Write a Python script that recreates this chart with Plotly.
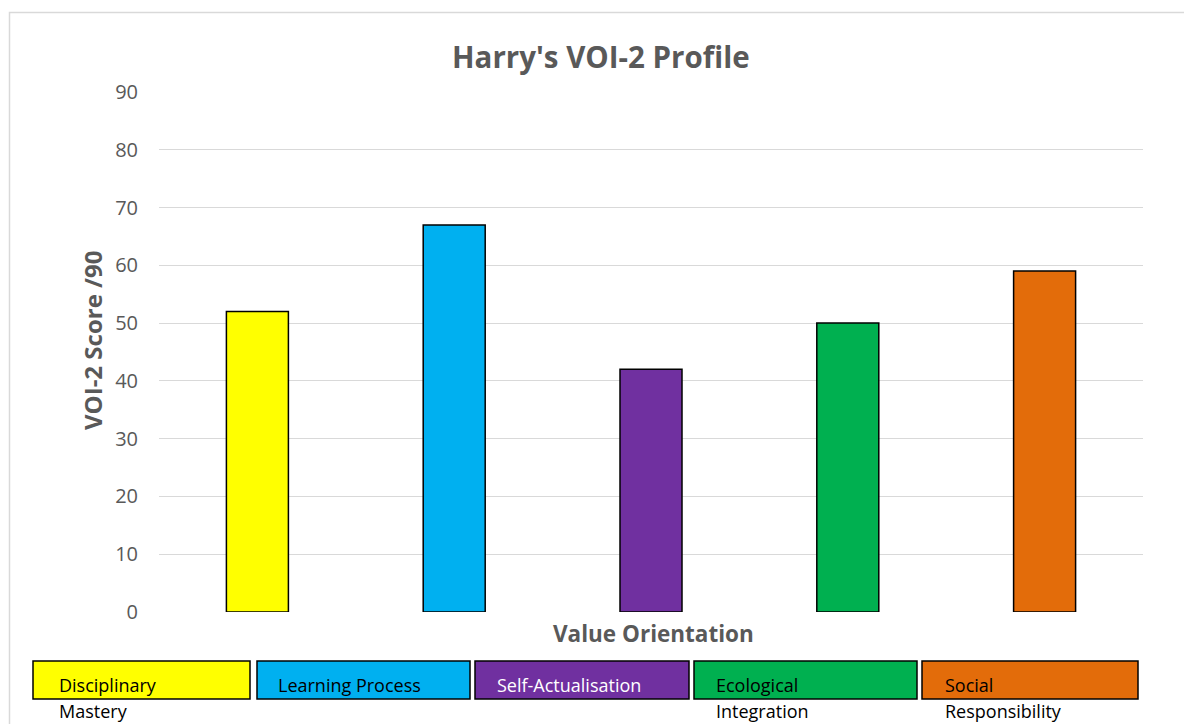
import plotly.graph_objects as go

categories = ["Disciplinary Mastery", "Learning Process", "Self-Actualisation",
              "Ecological Integration", "Social Responsibility"]
scores = [52, 67, 42, 50, 59]
colors = ["#FFFF00", "#00B0F0", "#7030A0", "#00B050", "#E36C0A"]
legend_line1 = ["Disciplinary", "Learning Process", "Self-Actualisation", "Ecological", "Social"]
legend_line2 = ["Mastery", "", "", "Integration", "Responsibility"]
legend_text_colors = ["#000000", "#000000", "#FFFFFF", "#000000", "#000000"]
y_ticks = [0, 10, 20, 30, 40, 50, 60, 70, 80, 90]

W, H = 1184, 724
FONT = "Open Sans"
GREY = "#595959"

def px(x):
    return x / W

def py(y):
    return 1 - y / H

fig = go.Figure()
fig.add_trace(go.Bar(
    x=categories, y=scores,
    marker=dict(color=colors, line=dict(color="#000000", width=1.5)),
    width=0.315, hoverinfo="x+y",
))

shapes = [dict(type="rect", xref="paper", yref="paper",
               x0=px(9.5), x1=px(1200), y0=py(12.5), y1=py(740),
               line=dict(color="#D9D9D9", width=1.5), fillcolor="rgba(0,0,0,0)", layer="below")]
annotations = [
    dict(text="<b>Harry's VOI-2 Profile</b>", x=px(601), y=py(56), xref="paper", yref="paper",
         showarrow=False, font=dict(size=29.5, color=GREY, family=FONT), xanchor="center", yanchor="middle"),
    dict(text="<b>VOI-2 Score /90</b>", x=px(92), y=py(341), xref="paper", yref="paper",
         showarrow=False, textangle=-90, font=dict(size=24, color=GREY, family=FONT),
         xanchor="center", yanchor="middle"),
    dict(text="<b>Value Orientation</b>", x=px(653), y=py(633), xref="paper", yref="paper",
         showarrow=False, font=dict(size=22.5, color=GREY, family=FONT), xanchor="center", yanchor="middle"),
]

box_left = [33, 257, 475, 694, 922]
box_right = [250, 470, 689, 917, 1138]
text_off = [24, 19, 20, 20, 21]
for i in range(len(categories)):
    shapes.append(dict(type="rect", xref="paper", yref="paper",
                       x0=px(box_left[i]), x1=px(box_right[i]), y0=py(661), y1=py(699),
                       line=dict(color="#000000", width=1.5), fillcolor=colors[i]))
    annotations.append(dict(text=legend_line1[i], x=px(box_left[i] + text_off[i]), y=py(685),
                            xref="paper", yref="paper", showarrow=False, xanchor="left", yanchor="middle",
                            font=dict(size=18, color=legend_text_colors[i], family=FONT)))
    if legend_line2[i]:
        annotations.append(dict(text=legend_line2[i], x=px(box_left[i] + text_off[i]), y=py(711),
                                xref="paper", yref="paper", showarrow=False, xanchor="left", yanchor="middle",
                                font=dict(size=18, color="#000000", family=FONT)))

fig.update_layout(
    template="none",
    width=W, height=H,
    margin=dict(l=0, r=0, t=0, b=0),
    paper_bgcolor="white", plot_bgcolor="white",
    showlegend=False,
    font=dict(family=FONT, color=GREY),
    shapes=shapes, annotations=annotations,
    xaxis=dict(domain=[px(159), px(1143)], showticklabels=False, showgrid=False, automargin=False,
               zeroline=False, showline=False, ticks="", range=[-0.5, 4.5]),
    yaxis=dict(domain=[py(612), py(92)], range=[0, 90], tickvals=y_ticks, automargin=False,
               gridcolor="#D9D9D9", gridwidth=1.3, zeroline=False, showline=False, ticks="",
               tickfont=dict(size=20, color=GREY, family=FONT), ticklabelstandoff=20),
)

fig.write_html("out.html", config={"displayModeBar": False},
               post_script="document.body.style.margin='0';document.body.style.overflow='hidden';")
